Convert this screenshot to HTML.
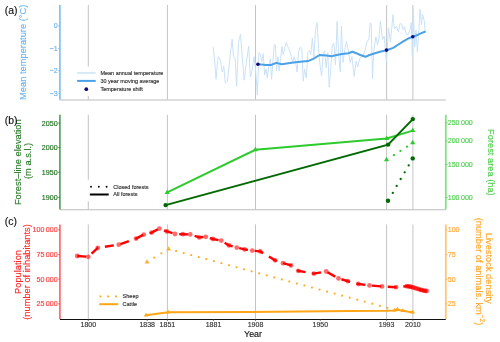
<!DOCTYPE html>
<html><head><meta charset="utf-8"><style>
html,body{margin:0;padding:0;background:#fff;width:500px;height:342px;overflow:hidden}
svg{display:block;will-change:transform}
text{font-family:"Liberation Sans",sans-serif}
</style></head><body>
<svg width="500" height="342" viewBox="0 0 500 342" font-family="Liberation Sans, sans-serif"><line x1="88.3" y1="5.0" x2="88.3" y2="66.6" stroke="#c4c4c4" stroke-width="1"/>
<line x1="88.3" y1="95.9" x2="88.3" y2="99.8" stroke="#c4c4c4" stroke-width="1"/>
<line x1="167.4" y1="5.0" x2="167.4" y2="99.8" stroke="#c4c4c4" stroke-width="1"/>
<line x1="255.5" y1="5.0" x2="255.5" y2="99.8" stroke="#c4c4c4" stroke-width="1"/>
<line x1="386.6" y1="5.0" x2="386.6" y2="99.8" stroke="#c4c4c4" stroke-width="1"/>
<line x1="412.9" y1="5.0" x2="412.9" y2="99.8" stroke="#c4c4c4" stroke-width="1"/>
<polyline points="213.2,46.8 214.7,62.0 216.1,79.2 217.3,64.0 218.2,56.7 220.2,59.8 222.3,72.0 223.7,65.9 225.3,83.3 227.4,81.2 229.0,66.0 230.6,52.0 232.1,39.3 233.5,56.7 235.0,57.7 236.6,86.3 238.5,42.3 240.5,34.1 242.5,60.7 244.2,80.2 246.6,60.7 248.7,46.4 250.3,77.1 252.4,69.0 254.0,56.7 255.6,69.0 257.3,95.0 259.0,52.6 260.5,54.6 261.7,61.8 263.2,53.6 264.6,75.0 266.2,69.0 267.3,78.1 268.7,66.9 270.3,58.7 271.6,79.2 273.0,60.0 274.2,44.4 275.4,45.4 276.5,71.0 277.9,56.7 279.1,71.0 280.6,58.7 282.0,46.4 283.2,54.6 284.8,48.0 286.3,42.3 287.5,46.0 288.7,48.5 290.0,52.0 291.2,56.7 292.8,61.8 294.2,56.7 295.6,61.8 297.1,72.0 298.5,52.6 300.1,47.4 301.8,48.5 303.2,81.2 304.6,69.0 306.3,78.1 307.9,52.6 309.4,50.5 310.8,54.6 312.4,38.2 313.9,56.7 315.5,30.1 317.0,22.5 318.6,48.5 320.0,64.8 321.6,76.1 323.3,52.6 324.7,50.5 326.1,67.9 327.8,52.6 329.2,87.4 330.8,68.9 332.3,44.4 333.9,43.7 335.5,64.8 337.1,21.5 338.5,53.1 340.2,71.8 341.4,26.2 343.0,62.4 344.9,49.6 346.5,41.4 348.4,50.7 350.2,62.4 351.9,56.6 354.2,76.5 356.1,61.3 357.7,67.1 359.6,59.0 361.9,56.6 363.5,54.0 365.2,50.0 367.1,41.4 369.0,39.0 370.1,22.7 371.2,23.8 372.5,79.0 373.8,50.1 375.9,36.9 377.5,45.0 379.0,38.0 380.4,21.2 382.5,39.6 384.2,36.0 386.4,62.0 388.5,27.7 390.4,42.2 393.0,14.6 394.3,29.0 396.4,26.4 398.3,31.7 400.1,23.4 402.0,24.6 403.0,29.7 404.6,27.0 406.2,34.3 408.2,34.8 410.2,28.7 411.3,22.5 412.3,55.3 413.3,8.2 414.7,47.1 416.0,30.0 417.4,52.2 418.6,34.0 420.0,9.2 421.5,24.6 422.5,14.3 424.2,20.5 425.2,31.7" fill="none" stroke="#c9e2f7" stroke-width="1" stroke-linejoin="round"/>
<polyline points="257.9,64.2 261.5,64.6 265.8,65.0 271.0,65.0 276.3,62.9 281.6,64.2 286.8,63.4 293.4,62.4 302.6,61.6 307.9,61.1 313.2,58.9 319.7,55.0 326.3,55.5 331.6,56.3 336.8,55.0 342.1,53.9 348.4,53.2 352.4,51.8 356.3,53.2 360.3,55.0 365.5,56.8 369.5,55.0 373.4,53.7 380.0,51.8 386.6,50.3 393.2,47.9 398.4,44.5 403.7,41.1 408.9,38.2 412.9,36.6 416.8,35.3 420.8,33.4 424.9,31.8" fill="none" stroke="#4aa1e6" stroke-width="2" stroke-linejoin="round" stroke-linecap="round"/>
<circle cx="257.9" cy="64.3" r="1.8" fill="#0b0b80"/>
<circle cx="386.5" cy="50.1" r="1.8" fill="#0b0b80"/>
<circle cx="412.8" cy="36.7" r="1.8" fill="#0b0b80"/>
<line x1="77.1" y1="72.9" x2="95.7" y2="72.9" stroke="#d6e9f9" stroke-width="2"/>
<line x1="77.1" y1="80.9" x2="95.7" y2="80.9" stroke="#4aa1e6" stroke-width="2"/>
<circle cx="86.3" cy="89.2" r="1.85" fill="#0b0b80"/>
<text x="100.4" y="74.9" font-size="5.5" fill="#303030" stroke="#303030" stroke-width="0.15" text-anchor="start" >Mean annual temperature</text>
<text x="100.4" y="82.9" font-size="5.5" fill="#303030" stroke="#303030" stroke-width="0.15" text-anchor="start" >30 year moving average</text>
<text x="100.4" y="91.3" font-size="5.5" fill="#303030" stroke="#303030" stroke-width="0.15" text-anchor="start" >Temperature shift</text>
<line x1="59.9" y1="100.0" x2="445.8" y2="100.0" stroke="#bdbdbd" stroke-width="1.1"/>
<line x1="59.9" y1="5.0" x2="59.9" y2="99.8" stroke="#86bff0" stroke-width="1.7"/>
<line x1="58.2" y1="26.0" x2="59.9" y2="26.0" stroke="#6fb3ec" stroke-width="0.8"/>
<text x="57.6" y="28.4" font-size="7.1" fill="#6fb3ec" stroke="#6fb3ec" stroke-width="0.15" text-anchor="end" >0</text>
<line x1="58.2" y1="48.4" x2="59.9" y2="48.4" stroke="#6fb3ec" stroke-width="0.8"/>
<text x="57.6" y="50.8" font-size="7.1" fill="#6fb3ec" stroke="#6fb3ec" stroke-width="0.15" text-anchor="end" >−1</text>
<line x1="58.2" y1="70.8" x2="59.9" y2="70.8" stroke="#6fb3ec" stroke-width="0.8"/>
<text x="57.6" y="73.2" font-size="7.1" fill="#6fb3ec" stroke="#6fb3ec" stroke-width="0.15" text-anchor="end" >−2</text>
<line x1="58.2" y1="93.2" x2="59.9" y2="93.2" stroke="#6fb3ec" stroke-width="0.8"/>
<text x="57.6" y="95.60000000000001" font-size="7.1" fill="#6fb3ec" stroke="#6fb3ec" stroke-width="0.15" text-anchor="end" >−3</text>
<text x="25.8" y="52.3" font-size="9.3" fill="#6fb3ec" stroke="#6fb3ec" stroke-width="0.15" text-anchor="middle" transform="rotate(-90 25.8 52.3)" >Mean temperature (°C)</text>
<text x="4.8" y="14.0" font-size="10.4" fill="#111" stroke="#111" stroke-width="0.15" text-anchor="start" >(a)</text>
<line x1="88.3" y1="114.8" x2="88.3" y2="179.9" stroke="#c4c4c4" stroke-width="1"/>
<line x1="88.3" y1="201.2" x2="88.3" y2="209.4" stroke="#c4c4c4" stroke-width="1"/>
<line x1="167.4" y1="114.8" x2="167.4" y2="209.4" stroke="#c4c4c4" stroke-width="1"/>
<line x1="255.5" y1="114.8" x2="255.5" y2="209.4" stroke="#c4c4c4" stroke-width="1"/>
<line x1="386.6" y1="114.8" x2="386.6" y2="209.4" stroke="#c4c4c4" stroke-width="1"/>
<line x1="412.9" y1="114.8" x2="412.9" y2="209.4" stroke="#c4c4c4" stroke-width="1"/>
<polyline points="167.2,192.4 255.4,149.8 386.7,138.4 412.8,130.6" fill="none" stroke="#2ecb2e" stroke-width="2"/>
<polyline points="165.6,205.1 388.1,144.6 412.8,119.1" fill="none" stroke="#006a00" stroke-width="2"/>
<polygon points="164.60,193.90 169.80,193.90 167.20,189.40" fill="#2ecb2e"/>
<polygon points="252.80,151.30 258.00,151.30 255.40,146.80" fill="#2ecb2e"/>
<polygon points="384.10,139.90 389.30,139.90 386.70,135.40" fill="#2ecb2e"/>
<polygon points="410.20,132.10 415.40,132.10 412.80,127.60" fill="#2ecb2e"/>
<circle cx="165.6" cy="205.1" r="2.2" fill="#006a00"/>
<circle cx="388.1" cy="144.6" r="2.2" fill="#006a00"/>
<circle cx="412.8" cy="119.1" r="2.2" fill="#006a00"/>
<circle cx="392.8" cy="192.9" r="1.15" fill="#006a00"/>
<circle cx="396.7" cy="185.9" r="1.15" fill="#006a00"/>
<circle cx="400.7" cy="179.0" r="1.15" fill="#006a00"/>
<circle cx="404.7" cy="172.3" r="1.15" fill="#006a00"/>
<circle cx="408.7" cy="165.4" r="1.15" fill="#006a00"/>
<circle cx="388.0" cy="200.7" r="2.2" fill="#006a00"/>
<circle cx="412.7" cy="158.4" r="2.2" fill="#006a00"/>
<circle cx="393.9" cy="155.2" r="1.15" fill="#2ecb2e"/>
<circle cx="400.5" cy="150.9" r="1.15" fill="#2ecb2e"/>
<circle cx="407.0" cy="146.7" r="1.15" fill="#2ecb2e"/>
<polygon points="383.90,161.30 389.10,161.30 386.50,156.80" fill="#2ecb2e"/>
<polygon points="410.10,144.30 415.30,144.30 412.70,139.80" fill="#2ecb2e"/>
<circle cx="91.0" cy="186.8" r="0.95" fill="#000"/>
<circle cx="98.8" cy="186.8" r="0.95" fill="#000"/>
<circle cx="106.6" cy="186.8" r="0.95" fill="#000"/>
<line x1="89.9" y1="194.5" x2="108.7" y2="194.5" stroke="#000" stroke-width="2"/>
<text x="113.3" y="188.7" font-size="5.5" fill="#303030" stroke="#303030" stroke-width="0.15" text-anchor="start" >Closed forests</text>
<text x="113.3" y="196.4" font-size="5.5" fill="#303030" stroke="#303030" stroke-width="0.15" text-anchor="start" >All forests</text>
<line x1="59.9" y1="209.7" x2="445.8" y2="209.7" stroke="#bdbdbd" stroke-width="1.1"/>
<line x1="59.9" y1="114.8" x2="59.9" y2="209.4" stroke="#62a86a" stroke-width="1.8"/>
<line x1="445.8" y1="114.8" x2="445.8" y2="209.4" stroke="#84e084" stroke-width="1.8"/>
<line x1="58.2" y1="123.1" x2="59.9" y2="123.1" stroke="#1f6f1f" stroke-width="0.8"/>
<text x="57.6" y="125.5" font-size="7.1" fill="#1f6f1f" stroke="#1f6f1f" stroke-width="0.15" text-anchor="end" >2050</text>
<line x1="58.2" y1="147.6" x2="59.9" y2="147.6" stroke="#1f6f1f" stroke-width="0.8"/>
<text x="57.6" y="150.0" font-size="7.1" fill="#1f6f1f" stroke="#1f6f1f" stroke-width="0.15" text-anchor="end" >2000</text>
<line x1="58.2" y1="172.2" x2="59.9" y2="172.2" stroke="#1f6f1f" stroke-width="0.8"/>
<text x="57.6" y="174.6" font-size="7.1" fill="#1f6f1f" stroke="#1f6f1f" stroke-width="0.15" text-anchor="end" >1950</text>
<line x1="58.2" y1="197.4" x2="59.9" y2="197.4" stroke="#1f6f1f" stroke-width="0.8"/>
<text x="57.6" y="199.8" font-size="7.1" fill="#1f6f1f" stroke="#1f6f1f" stroke-width="0.15" text-anchor="end" >1900</text>
<line x1="445.8" y1="122.73" x2="447.6" y2="122.73" stroke="#4fcf4f" stroke-width="0.8"/>
<text x="447.7" y="125.13067627906895" font-size="7.1" fill="#4fcf4f" stroke="#4fcf4f" stroke-width="0.15" text-anchor="start" >250 000</text>
<line x1="445.8" y1="140.94" x2="447.6" y2="140.94" stroke="#4fcf4f" stroke-width="0.8"/>
<text x="447.7" y="143.33919006630848" font-size="7.1" fill="#4fcf4f" stroke="#4fcf4f" stroke-width="0.15" text-anchor="start" >200 000</text>
<line x1="445.8" y1="164.41" x2="447.6" y2="164.41" stroke="#4fcf4f" stroke-width="0.8"/>
<text x="447.7" y="166.81404717837378" font-size="7.1" fill="#4fcf4f" stroke="#4fcf4f" stroke-width="0.15" text-anchor="start" >150 000</text>
<line x1="445.8" y1="197.50" x2="447.6" y2="197.50" stroke="#4fcf4f" stroke-width="0.8"/>
<text x="447.7" y="199.9" font-size="7.1" fill="#4fcf4f" stroke="#4fcf4f" stroke-width="0.15" text-anchor="start" >100 000</text>
<text x="21.4" y="162.2" font-size="9.3" fill="#2a7a2a" stroke="#2a7a2a" stroke-width="0.15" text-anchor="middle" transform="rotate(-90 21.4 162.2)" >Forest–line elevation</text>
<text x="30.8" y="160.9" font-size="9.3" fill="#2a7a2a" stroke="#2a7a2a" stroke-width="0.15" text-anchor="middle" transform="rotate(-90 30.8 160.9)" >(m a.s.l.)</text>
<text x="487.9" y="162.4" font-size="9.3" fill="#4fcf4f" stroke="#4fcf4f" stroke-width="0.15" text-anchor="middle" transform="rotate(90 487.9 162.4)" >Forest area (ha)</text>
<text x="4.8" y="123.6" font-size="10.4" fill="#111" stroke="#111" stroke-width="0.15" text-anchor="start" >(b)</text>
<line x1="88.3" y1="224.4" x2="88.3" y2="319.0" stroke="#c4c4c4" stroke-width="1"/>
<line x1="167.4" y1="224.4" x2="167.4" y2="319.0" stroke="#c4c4c4" stroke-width="1"/>
<line x1="255.5" y1="224.4" x2="255.5" y2="319.0" stroke="#c4c4c4" stroke-width="1"/>
<line x1="386.6" y1="224.4" x2="386.6" y2="319.0" stroke="#c4c4c4" stroke-width="1"/>
<line x1="412.9" y1="224.4" x2="412.9" y2="319.0" stroke="#c4c4c4" stroke-width="1"/>
<polyline points="146.0,315.2 168.2,312.3 250.0,312.0 350.0,311.0 387.0,310.8 394.8,310.4 397.4,309.8 402.8,310.8 413.0,312.4" fill="none" stroke="#ffa516" stroke-width="2" stroke-linejoin="round"/>
<polygon points="143.80,316.47 148.20,316.47 146.00,312.66" fill="#ffa516"/>
<polygon points="166.00,313.57 170.40,313.57 168.20,309.76" fill="#ffa516"/>
<polygon points="392.60,311.47 397.00,311.47 394.80,307.66" fill="#ffa516"/>
<polygon points="395.20,310.67 399.60,310.67 397.40,306.86" fill="#ffa516"/>
<polygon points="400.60,312.07 405.00,312.07 402.80,308.26" fill="#ffa516"/>
<polygon points="410.60,313.47 415.00,313.47 412.80,309.66" fill="#ffa516"/>
<polygon points="144.60,263.39 149.40,263.39 147.00,259.23" fill="#ffae2e"/>
<polygon points="166.20,250.39 171.00,250.39 168.60,246.23" fill="#ffae2e"/>
<rect x="153.30" y="256.77" width="1.8" height="1.8" fill="#ffa516"/>
<rect x="160.50" y="252.43" width="1.8" height="1.8" fill="#ffa516"/>
<rect x="175.24" y="250.13" width="1.8" height="1.8" fill="#ffa516"/>
<rect x="182.79" y="252.16" width="1.8" height="1.8" fill="#ffa516"/>
<rect x="190.33" y="254.18" width="1.8" height="1.8" fill="#ffa516"/>
<rect x="197.88" y="256.21" width="1.8" height="1.8" fill="#ffa516"/>
<rect x="205.42" y="258.24" width="1.8" height="1.8" fill="#ffa516"/>
<rect x="212.97" y="260.27" width="1.8" height="1.8" fill="#ffa516"/>
<rect x="220.51" y="262.29" width="1.8" height="1.8" fill="#ffa516"/>
<rect x="228.06" y="264.32" width="1.8" height="1.8" fill="#ffa516"/>
<rect x="235.60" y="266.35" width="1.8" height="1.8" fill="#ffa516"/>
<rect x="243.15" y="268.38" width="1.8" height="1.8" fill="#ffa516"/>
<rect x="250.69" y="270.40" width="1.8" height="1.8" fill="#ffa516"/>
<rect x="258.24" y="272.43" width="1.8" height="1.8" fill="#ffa516"/>
<rect x="265.78" y="274.46" width="1.8" height="1.8" fill="#ffa516"/>
<rect x="273.33" y="276.49" width="1.8" height="1.8" fill="#ffa516"/>
<rect x="280.87" y="278.51" width="1.8" height="1.8" fill="#ffa516"/>
<rect x="288.42" y="280.54" width="1.8" height="1.8" fill="#ffa516"/>
<rect x="295.96" y="282.57" width="1.8" height="1.8" fill="#ffa516"/>
<rect x="303.51" y="284.60" width="1.8" height="1.8" fill="#ffa516"/>
<rect x="311.05" y="286.62" width="1.8" height="1.8" fill="#ffa516"/>
<rect x="318.60" y="288.65" width="1.8" height="1.8" fill="#ffa516"/>
<rect x="326.14" y="290.68" width="1.8" height="1.8" fill="#ffa516"/>
<rect x="333.69" y="292.71" width="1.8" height="1.8" fill="#ffa516"/>
<rect x="341.23" y="294.73" width="1.8" height="1.8" fill="#ffa516"/>
<rect x="348.78" y="296.76" width="1.8" height="1.8" fill="#ffa516"/>
<rect x="356.32" y="298.79" width="1.8" height="1.8" fill="#ffa516"/>
<rect x="363.87" y="300.82" width="1.8" height="1.8" fill="#ffa516"/>
<rect x="371.41" y="302.84" width="1.8" height="1.8" fill="#ffa516"/>
<rect x="378.96" y="304.87" width="1.8" height="1.8" fill="#ffa516"/>
<rect x="386.5" y="306.9" width="1.8" height="1.8" fill="#ffa516"/>
<polyline points="77.2,256.0 88.2,256.8 97.8,247.8 118.8,244.7 136.0,238.6 143.8,234.6 151.6,232.6 159.4,228.6 166.8,231.4 175.0,234.0 182.8,234.2 190.2,234.4 199.2,237.4 205.8,236.8 213.0,239.0 221.3,240.6 229.0,245.4 236.8,247.6 244.6,249.4 252.2,250.6 260.2,251.4 275.1,260.3 283.0,263.2 291.0,265.4 298.4,270.9 313.8,273.6 326.2,271.5 338.5,278.4 347.8,281.2 358.4,284.0 369.5,285.4 382.0,286.4 396.0,287.2 406.8,286.2 408.3,286.4 409.9,286.7 411.4,287.0 413.0,287.4 414.5,287.8 416.0,288.3 417.6,288.8 419.1,289.3 420.7,289.8 422.2,290.2 423.8,290.6 425.3,290.9 426.6,291.0" fill="none" stroke="#ff0000" stroke-width="2.4" stroke-dasharray="9 6.7"/>
<circle cx="77.2" cy="256" r="2.4" fill="#ff0000" fill-opacity="0.58"/>
<circle cx="88.2" cy="256.8" r="2.4" fill="#ff0000" fill-opacity="0.58"/>
<circle cx="97.8" cy="247.8" r="2.4" fill="#ff0000" fill-opacity="0.58"/>
<circle cx="118.8" cy="244.7" r="2.4" fill="#ff0000" fill-opacity="0.58"/>
<circle cx="136" cy="238.6" r="2.4" fill="#ff0000" fill-opacity="0.58"/>
<circle cx="143.8" cy="234.6" r="2.4" fill="#ff0000" fill-opacity="0.58"/>
<circle cx="151.6" cy="232.6" r="2.4" fill="#ff0000" fill-opacity="0.58"/>
<circle cx="159.4" cy="228.6" r="2.4" fill="#ff0000" fill-opacity="0.58"/>
<circle cx="166.8" cy="231.4" r="2.4" fill="#ff0000" fill-opacity="0.58"/>
<circle cx="175" cy="234" r="2.4" fill="#ff0000" fill-opacity="0.58"/>
<circle cx="182.8" cy="234.2" r="2.4" fill="#ff0000" fill-opacity="0.58"/>
<circle cx="190.2" cy="234.4" r="2.4" fill="#ff0000" fill-opacity="0.58"/>
<circle cx="199.2" cy="237.4" r="2.4" fill="#ff0000" fill-opacity="0.58"/>
<circle cx="205.8" cy="236.8" r="2.4" fill="#ff0000" fill-opacity="0.58"/>
<circle cx="213" cy="239" r="2.4" fill="#ff0000" fill-opacity="0.58"/>
<circle cx="221.3" cy="240.6" r="2.4" fill="#ff0000" fill-opacity="0.58"/>
<circle cx="229" cy="245.4" r="2.4" fill="#ff0000" fill-opacity="0.58"/>
<circle cx="236.8" cy="247.6" r="2.4" fill="#ff0000" fill-opacity="0.58"/>
<circle cx="244.6" cy="249.4" r="2.4" fill="#ff0000" fill-opacity="0.58"/>
<circle cx="252.2" cy="250.6" r="2.4" fill="#ff0000" fill-opacity="0.58"/>
<circle cx="260.2" cy="251.4" r="2.4" fill="#ff0000" fill-opacity="0.58"/>
<circle cx="275.1" cy="260.3" r="2.4" fill="#ff0000" fill-opacity="0.58"/>
<circle cx="283" cy="263.2" r="2.4" fill="#ff0000" fill-opacity="0.58"/>
<circle cx="291" cy="265.4" r="2.4" fill="#ff0000" fill-opacity="0.58"/>
<circle cx="298.4" cy="270.9" r="2.4" fill="#ff0000" fill-opacity="0.58"/>
<circle cx="313.8" cy="273.6" r="2.4" fill="#ff0000" fill-opacity="0.58"/>
<circle cx="326.2" cy="271.5" r="2.4" fill="#ff0000" fill-opacity="0.58"/>
<circle cx="338.5" cy="278.4" r="2.4" fill="#ff0000" fill-opacity="0.58"/>
<circle cx="347.8" cy="281.2" r="2.4" fill="#ff0000" fill-opacity="0.58"/>
<circle cx="358.4" cy="284" r="2.4" fill="#ff0000" fill-opacity="0.58"/>
<circle cx="369.5" cy="285.4" r="2.4" fill="#ff0000" fill-opacity="0.58"/>
<circle cx="382" cy="286.4" r="2.4" fill="#ff0000" fill-opacity="0.58"/>
<circle cx="396" cy="287.2" r="2.4" fill="#ff0000" fill-opacity="0.58"/>
<circle cx="406.8" cy="286.2" r="2.4" fill="#ff0000" fill-opacity="0.58"/>
<circle cx="408.3" cy="286.4" r="2.4" fill="#ff0000" fill-opacity="0.58"/>
<circle cx="409.9" cy="286.7" r="2.4" fill="#ff0000" fill-opacity="0.58"/>
<circle cx="411.4" cy="287.0" r="2.4" fill="#ff0000" fill-opacity="0.58"/>
<circle cx="413.0" cy="287.4" r="2.4" fill="#ff0000" fill-opacity="0.58"/>
<circle cx="414.5" cy="287.8" r="2.4" fill="#ff0000" fill-opacity="0.58"/>
<circle cx="416.0" cy="288.3" r="2.4" fill="#ff0000" fill-opacity="0.58"/>
<circle cx="417.6" cy="288.8" r="2.4" fill="#ff0000" fill-opacity="0.58"/>
<circle cx="419.1" cy="289.3" r="2.4" fill="#ff0000" fill-opacity="0.58"/>
<circle cx="420.7" cy="289.8" r="2.4" fill="#ff0000" fill-opacity="0.58"/>
<circle cx="422.2" cy="290.2" r="2.4" fill="#ff0000" fill-opacity="0.58"/>
<circle cx="423.8" cy="290.6" r="2.4" fill="#ff0000" fill-opacity="0.58"/>
<circle cx="425.3" cy="290.9" r="2.4" fill="#ff0000" fill-opacity="0.58"/>
<circle cx="426.6" cy="291.0" r="2.4" fill="#ff0000" fill-opacity="0.58"/>
<rect x="99.5" y="295.5" width="1.8" height="1.8" fill="#ffa516"/>
<rect x="107.3" y="295.5" width="1.8" height="1.8" fill="#ffa516"/>
<rect x="115.1" y="295.5" width="1.8" height="1.8" fill="#ffa516"/>
<line x1="99.2" y1="304.2" x2="118.2" y2="304.2" stroke="#ffa516" stroke-width="2"/>
<text x="122.6" y="298.3" font-size="5.5" fill="#303030" stroke="#303030" stroke-width="0.15" text-anchor="start" >Sheep</text>
<text x="122.6" y="306.1" font-size="5.5" fill="#303030" stroke="#303030" stroke-width="0.15" text-anchor="start" >Cattle</text>
<line x1="59.9" y1="319.5" x2="445.8" y2="319.5" stroke="#111" stroke-width="1.1"/>
<line x1="59.9" y1="224.4" x2="59.9" y2="319.0" stroke="#ff7070" stroke-width="1.8"/>
<line x1="445.8" y1="224.4" x2="445.8" y2="319.0" stroke="#ffc870" stroke-width="1.8"/>
<line x1="58.2" y1="229.9" x2="59.9" y2="229.9" stroke="#ff3b3b" stroke-width="0.8"/>
<text x="57.6" y="232.3" font-size="7.1" fill="#ff3b3b" stroke="#ff3b3b" stroke-width="0.15" text-anchor="end" >100 000</text>
<line x1="58.2" y1="254.6" x2="59.9" y2="254.6" stroke="#ff3b3b" stroke-width="0.8"/>
<text x="57.6" y="257.0" font-size="7.1" fill="#ff3b3b" stroke="#ff3b3b" stroke-width="0.15" text-anchor="end" >75 000</text>
<line x1="58.2" y1="279.2" x2="59.9" y2="279.2" stroke="#ff3b3b" stroke-width="0.8"/>
<text x="57.6" y="281.59999999999997" font-size="7.1" fill="#ff3b3b" stroke="#ff3b3b" stroke-width="0.15" text-anchor="end" >50 000</text>
<line x1="58.2" y1="303.8" x2="59.9" y2="303.8" stroke="#ff3b3b" stroke-width="0.8"/>
<text x="57.6" y="306.2" font-size="7.1" fill="#ff3b3b" stroke="#ff3b3b" stroke-width="0.15" text-anchor="end" >25 000</text>
<line x1="445.8" y1="230.0" x2="447.6" y2="230.0" stroke="#ffb040" stroke-width="0.8"/>
<text x="447.7" y="232.4" font-size="7.1" fill="#ffa836" stroke="#ffa836" stroke-width="0.15" text-anchor="start" >100</text>
<line x1="445.8" y1="254.6" x2="447.6" y2="254.6" stroke="#ffb040" stroke-width="0.8"/>
<text x="447.7" y="257.0" font-size="7.1" fill="#ffa836" stroke="#ffa836" stroke-width="0.15" text-anchor="start" >75</text>
<line x1="445.8" y1="279.2" x2="447.6" y2="279.2" stroke="#ffb040" stroke-width="0.8"/>
<text x="447.7" y="281.59999999999997" font-size="7.1" fill="#ffa836" stroke="#ffa836" stroke-width="0.15" text-anchor="start" >50</text>
<line x1="445.8" y1="303.8" x2="447.6" y2="303.8" stroke="#ffb040" stroke-width="0.8"/>
<text x="447.7" y="306.2" font-size="7.1" fill="#ffa836" stroke="#ffa836" stroke-width="0.15" text-anchor="start" >25</text>
<text x="20.5" y="272.0" font-size="9.3" fill="#ff2a2a" stroke="#ff2a2a" stroke-width="0.15" text-anchor="middle" transform="rotate(-90 20.5 272.0)" >Population</text>
<text x="30.1" y="272.0" font-size="9.3" fill="#ff2a2a" stroke="#ff2a2a" stroke-width="0.15" text-anchor="middle" transform="rotate(-90 30.1 272.0)" >(number of inhabitants)</text>
<text x="485.6" y="268.2" font-size="9.3" fill="#ffa526" stroke="#ffa526" stroke-width="0.15" text-anchor="middle" transform="rotate(90 485.6 268.2)" >Livestock density</text>
<text x="476.0" y="271.5" font-size="9.3" fill="#ffa526" stroke="#ffa526" stroke-width="0.15" text-anchor="middle" transform="rotate(90 476.0 271.5)">(number of animals. km<tspan font-size="6.5" dy="-3.5">−2</tspan><tspan dy="3.5">)</tspan></text>
<text x="4.8" y="224.5" font-size="10.4" fill="#111" stroke="#111" stroke-width="0.15" text-anchor="start" >(c)</text>
<line x1="88.3" y1="319.0" x2="88.3" y2="320.8" stroke="#333" stroke-width="0.8"/>
<text x="88.3" y="327.4" font-size="7.0" fill="#333" stroke="#333" stroke-width="0.15" text-anchor="middle" >1800</text>
<line x1="147.2" y1="319.0" x2="147.2" y2="320.8" stroke="#333" stroke-width="0.8"/>
<text x="147.2" y="327.4" font-size="7.0" fill="#333" stroke="#333" stroke-width="0.15" text-anchor="middle" >1838</text>
<line x1="167.4" y1="319.0" x2="167.4" y2="320.8" stroke="#333" stroke-width="0.8"/>
<text x="167.4" y="327.4" font-size="7.0" fill="#333" stroke="#333" stroke-width="0.15" text-anchor="middle" >1851</text>
<line x1="213.5" y1="319.0" x2="213.5" y2="320.8" stroke="#333" stroke-width="0.8"/>
<text x="213.5" y="327.4" font-size="7.0" fill="#333" stroke="#333" stroke-width="0.15" text-anchor="middle" >1881</text>
<line x1="255.5" y1="319.0" x2="255.5" y2="320.8" stroke="#333" stroke-width="0.8"/>
<text x="255.5" y="327.4" font-size="7.0" fill="#333" stroke="#333" stroke-width="0.15" text-anchor="middle" >1908</text>
<line x1="320.3" y1="319.0" x2="320.3" y2="320.8" stroke="#333" stroke-width="0.8"/>
<text x="320.3" y="327.4" font-size="7.0" fill="#333" stroke="#333" stroke-width="0.15" text-anchor="middle" >1950</text>
<line x1="386.6" y1="319.0" x2="386.6" y2="320.8" stroke="#333" stroke-width="0.8"/>
<text x="386.6" y="327.4" font-size="7.0" fill="#333" stroke="#333" stroke-width="0.15" text-anchor="middle" >1993</text>
<line x1="412.9" y1="319.0" x2="412.9" y2="320.8" stroke="#333" stroke-width="0.8"/>
<text x="412.9" y="327.4" font-size="7.0" fill="#333" stroke="#333" stroke-width="0.15" text-anchor="middle" >2010</text>
<text x="253.0" y="336.9" font-size="8.9" fill="#111" stroke="#111" stroke-width="0.15" text-anchor="middle" >Year</text></svg>
</body></html>
